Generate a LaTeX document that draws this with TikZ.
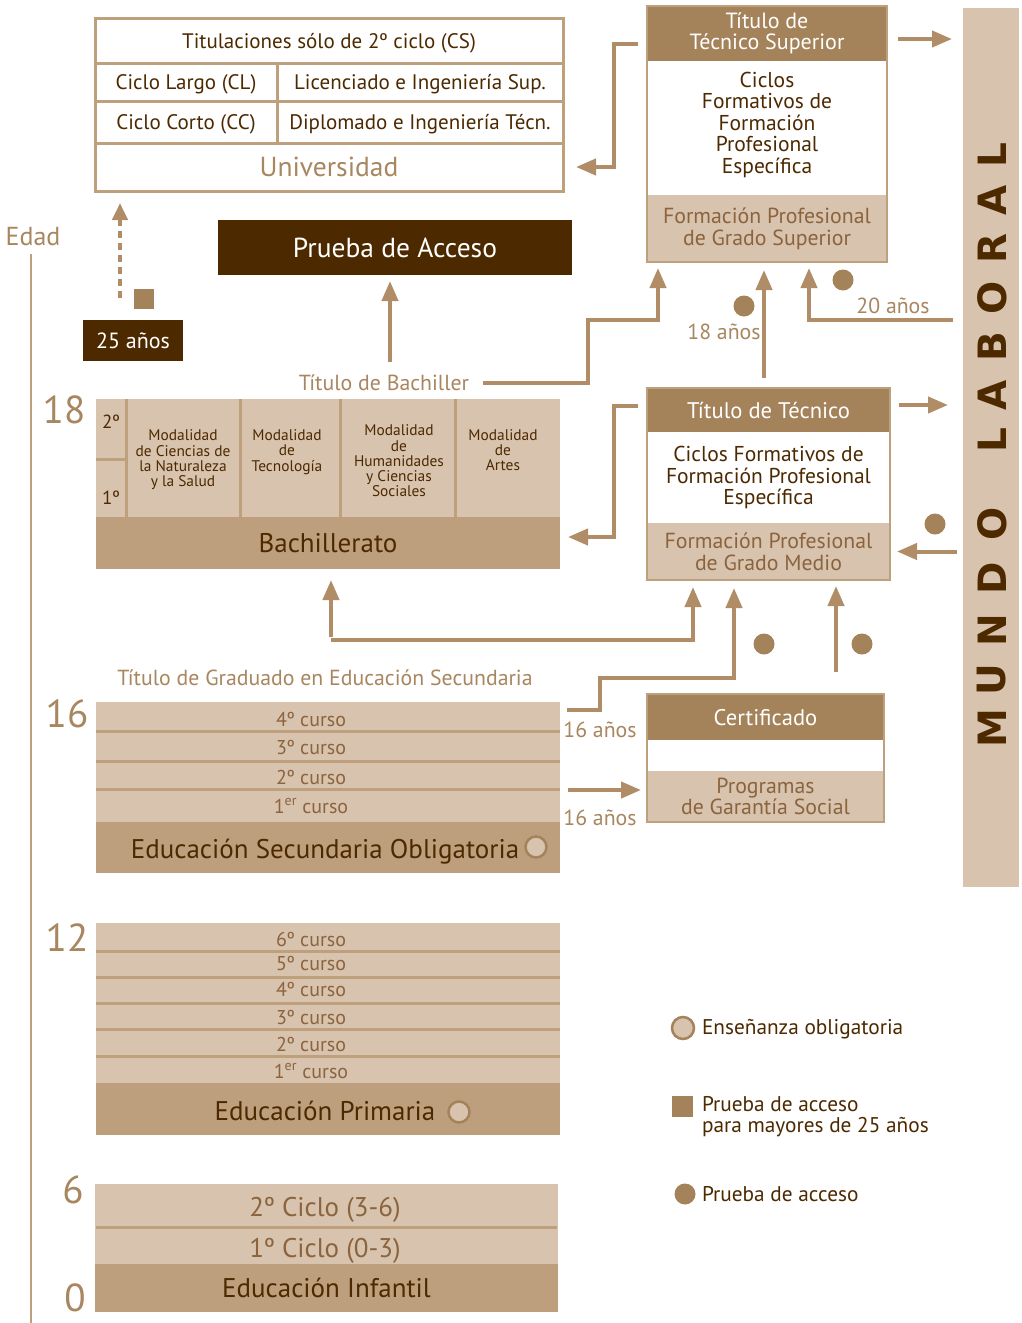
\documentclass[tikz,border=0pt]{standalone}
\usepackage{fontspec}
\setmainfont{PT Sans}
\newfontfamily\mlfont{DejaVu Sans}
\usetikzlibrary{arrows.meta}
\definecolor{cdark}{RGB}{77,41,0}
\definecolor{cmed}{RGB}{164,130,90}
\definecolor{ctan}{RGB}{189,159,126}
\definecolor{clight}{RGB}{216,195,174}
\definecolor{carrow}{RGB}{176,141,103}
\definecolor{clabel}{RGB}{168,134,95}
\definecolor{ctext}{RGB}{139,100,62}
\definecolor{cborder}{RGB}{190,160,125}
\begin{document}
\begin{tikzpicture}[x=1pt,y=-1pt,
  every node/.style={inner sep=0pt,outer sep=0pt,align=center},
  fs/.style 2 args={font=\fontsize{#1}{#2}\selectfont},
  one/.style={text depth=0pt},
  ucell/.style={draw=cborder,line width=3pt,text=cdark,fs={21}{24},one},
  hdr/.style={fill=cmed,text=white,fs={22}{21.5}},
  mid/.style={fill=white,text=cdark,fs={21.5}{21.5}},
  bot/.style={fill=clight,text=ctext,fs={21.8}{22}},
  lightbar/.style={fill=clight,minimum width=464pt},
  tanbar/.style={fill=ctan,text=cdark,minimum width=464pt,fs={27}{30},one},
  curso/.style={text=ctext,fs={20}{22},one},
  modal/.style={text=cdark,fs={15.4}{15.3}},
  age/.style={text=clabel,fs={39}{42},one},
  lbl/.style={text=clabel,fs={21.8}{24},one},
  divline/.style={draw=cborder,line width=3pt},
  frame/.style={draw=cborder,line width=1.5pt},
  arr/.style={draw=carrow,line width=4pt,-{Triangle[length=20pt,width=16pt]}},
  dot/.style={circle,fill=cmed,minimum size=21pt},
  ring/.style={circle,fill=clight,draw=cmed,line width=2.5pt,minimum size=21pt},
  legtxt/.style={anchor=west,align=left,text=cdark,fs={21.3}{21}},
  mlletter/.style={rotate=90,text=cdark,font=\mlfont\bfseries\fontsize{39}{42}\selectfont}
]
\useasboundingbox (0,0) rectangle (1022,1323);
\fill[white] (0,0) rectangle (1022,1323);

% ---------- Universidad ----------
\node[ucell,minimum width=468pt,minimum height=45pt] (cs) at (329,40.5) {Titulaciones sólo de 2º ciclo (CS)};
\node[ucell,minimum width=182pt,minimum height=38pt] (cl) at (186,82) {Ciclo Largo (CL)};
\node[ucell,minimum width=286pt,minimum height=38pt] (lic) at (420,82) {Licenciado e Ingeniería Sup.};
\node[ucell,minimum width=182pt,minimum height=42pt] (cc) at (186,122) {Ciclo Corto (CC)};
\node[ucell,minimum width=286pt,minimum height=42pt] (dip) at (420,122) {Diplomado e Ingeniería Técn.};
\node[ucell,minimum width=468pt,minimum height=48pt,text=clabel,fs={27.5}{30}] (uni) at (329,167) {Universidad};

% ---------- Prueba de acceso ----------
\node[fill=cdark,text=white,minimum width=354pt,minimum height=55pt,fs={27.5}{30},one] (pa) at (395,247.5) {Prueba de Acceso};

% ---------- Edad axis ----------
\node[text=clabel,fs={26}{28},one] (edad) at (33,236) {Edad};
\coordinate (axisbot) at (31,1323);
\draw[cborder,line width=2pt] (edad.south -| axisbot) ++(0,9) -- (axisbot);

% ---------- 25 años ----------
\node[fill=cdark,text=white,minimum width=100pt,minimum height=41pt,fs={22}{24},one] (a25) at (133,340.5) {25 años};
\node[fill=cmed,minimum size=20pt] (sq) at (144,299) {};
\coordinate (d0) at (120,298);
\draw[draw=carrow,line width=4pt,dash pattern=on 7pt off 5pt,-{Triangle[length=17pt,width=15pt]},shorten >=12pt] (d0) -- (d0 |- uni.south);

% ---------- FP Grado Superior ----------
\node[hdr,minimum width=240pt,minimum height=55pt] (fpsh) at (767,33.5) {Título de\\Técnico Superior};
\node[mid,minimum width=240pt,minimum height=134pt,text depth=11pt] (fpsm) at (767,128) {Ciclos\\Formativos de\\Formación\\Profesional\\Específica};
\node[bot,minimum width=240pt,minimum height=67pt] (fpsb) at (767,228.5) {Formación Profesional\\de Grado Superior};
\draw[frame] (fpsh.north west) rectangle (fpsb.south east);

% ---------- FP Grado Medio ----------
\node[hdr,minimum width=243pt,minimum height=44pt,fs={22.6}{24},one] (fpmh) at (768.5,410) {Título de Técnico};
\node[mid,minimum width=243pt,minimum height=91pt] (fpmm) at (768.5,477.5) {Ciclos Formativos de\\Formación Profesional\\Específica};
\node[bot,minimum width=243pt,minimum height=57pt] (fpmb) at (768.5,551.5) {Formación Profesional\\de Grado Medio};
\draw[frame] (fpmh.north west) rectangle (fpmb.south east);

% ---------- Garantía social ----------
\node[hdr,minimum width=237pt,minimum height=46pt,fs={22.6}{24},one] (ch) at (765.5,717) {Certificado};
\node[fill=white,minimum width=237pt,minimum height=30pt] (cm) at (765.5,755) {};
\node[bot,minimum width=237pt,minimum height=51pt,fs={21.8}{21}] (cb) at (765.5,796.5) {Programas\\de Garantía Social};
\draw[frame] (ch.north west) rectangle (cb.south east);

% ---------- Mundo laboral ----------
\node[fill=clight,minimum width=56pt,minimum height=879pt] (ml) at (991,447.5) {};
\foreach \ch/\yy [count=\i] in {M/728,U/680,N/630,D/578,O/524,L/440,A/395,B/347,O/298,R/248,A/200,L/155}
  \node[mlletter] (ml\i) at (992,\yy) {\ch};

% ---------- Bachillerato ----------
\node[lightbar,minimum height=118pt] (bup) at (328,458) {};
\node[tanbar,minimum height=52pt] (bbot) at (328,543) {Bachillerato};
\foreach \xx in {126,240,340,455} \draw[divline] (\xx,399) -- (\xx,517);
\draw[divline] (96,459) -- (126,459);
\node[text=cdark,fs={19}{20},one] (b2) at (111,422) {2º};
\node[text=cdark,fs={19}{20},one] (b1) at (111,498) {1º};
\node[modal] (m1) at (183,460) {Modalidad\\de Ciencias de\\la Naturaleza\\y la Salud};
\node[modal] (m2) at (287,452) {Modalidad\\de\\Tecnología};
\node[modal] (m3) at (399,461) {Modalidad\\de\\Humanidades\\y Ciencias\\Sociales};
\node[modal] (m4) at (503,450) {Modalidad\\de\\Artes};

% ---------- ESO ----------
\node[lightbar,minimum height=120pt] (esor) at (328,762) {};
\foreach \yy in {731,761,789} \draw[divline] (96,\yy) -- (560,\yy);
\node[tanbar,minimum height=51pt] (esob) at (328,847.5) {};
\node[text=cdark,fs={27}{30},one] (esot) at (325,848.5) {Educación Secundaria Obligatoria};
\node[ring] (esoc) at (536,847) {};
\node[curso] (e4) at (311,719) {4º curso};
\node[curso] (e3) at (311,747) {3º curso};
\node[curso] (e2) at (311,777) {2º curso};
\node[curso] (e1) at (311,806) {1\textsuperscript{er} curso};

% ---------- Primaria ----------
\node[lightbar,minimum height=160pt] (prr) at (328,1003) {};
\foreach \yy in {951,977,1003,1029,1056} \draw[divline] (96,\yy) -- (560,\yy);
\node[tanbar,minimum height=52pt] (prb) at (328,1109) {};
\node[text=cdark,fs={27}{30},one] (prt) at (325,1111) {Educación Primaria};
\node[ring] (prc) at (459,1112) {};
\node[curso] (p6) at (311,939) {6º curso};
\node[curso] (p5) at (311,963) {5º curso};
\node[curso] (p4) at (311,989) {4º curso};
\node[curso] (p3) at (311,1017) {3º curso};
\node[curso] (p2) at (311,1044) {2º curso};
\node[curso] (p1) at (311,1071) {1\textsuperscript{er} curso};

% ---------- Infantil ----------
\node[fill=clight,minimum width=463pt,minimum height=80pt] (infr) at (326.5,1224) {};
\draw[divline] (96,1227) -- (557,1227);
\node[tanbar,minimum width=463pt,minimum height=48pt] (infb) at (326.5,1288) {Educación Infantil};
\node[text=ctext,fs={27}{30},one] (i2) at (325,1207) {2º Ciclo (3-6)};
\node[text=ctext,fs={27}{30},one] (i1) at (325,1248) {1º Ciclo (0-3)};

% ---------- Ages ----------
\node[age] (age18) at (64,410) {18};
\node[age] (age16) at (67,714) {16};
\node[age] (age12) at (67,938) {12};
\node[age] (age6) at (73,1190) {6};
\node[age] (age0) at (75,1298) {0};

% ---------- Labels ----------
\node[lbl] (tb) at (384,383) {Título de Bachiller};
\node[lbl] (tg) at (325,678) {Título de Graduado en Educación Secundaria};
\node[lbl] (l18) at (724,332) {18 años};
\node[lbl] (l20) at (893,306) {20 años};
\node[lbl] (l16a) at (600,730) {16 años};
\node[lbl] (l16b) at (600,818) {16 años};

% ---------- Dots ----------
\node[dot] (dt1) at (744,306) {};
\node[dot] (dt2) at (843,280) {};
\node[dot] (dt3) at (935,524) {};
\node[dot] (dt4) at (764,644) {};
\node[dot] (dt5) at (862,644) {};

% ---------- Connectors ----------
\coordinate (c1) at ([xshift=-9pt,yshift=-10.5pt]fpsh.west);
\draw[arr,shorten >=13pt] (c1) -- ++(-24,0) |- (uni.east);
\coordinate (c2) at ([xshift=11pt,yshift=-5.5pt]fpsh.east);
\draw[arr,shorten >=11pt] (c2) -- (c2 -| ml.west);
\coordinate (c3) at (390,362);
\draw[arr,shorten >=6pt] (c3) -- (c3 |- pa.south);
\draw[arr,shorten >=6pt] ([xshift=14pt]tb.east) -| (588,320) -| ([xshift=-109pt]fpsb.south);
\coordinate (c5) at ([xshift=-4.5pt,yshift=10pt]fpmh.north);
\draw[arr,shorten >=8pt] (c5) -- (c5 |- fpsb.south);
\coordinate (c6) at (953,320);
\draw[arr,shorten >=6pt] (c6) -| ([xshift=42pt]fpsb.south);
\coordinate (c7) at ([xshift=-9pt,yshift=4pt]fpmh.west);
\draw[arr,shorten >=8pt] (c7) -- ++(-24,0) |- ([yshift=6pt]bbot.east);
\coordinate (c8) at ([xshift=9pt,yshift=5pt]fpmh.east);
\draw[arr,shorten >=15pt] (c8) -- (c8 -| ml.west);
\draw[arr,shorten <=6pt,shorten >=7pt] (ml.west |- fpmb.east) -- (fpmb.east);
\coordinate (c10) at (331,640);
\draw[arr,shorten >=11pt] ([yshift=3pt]c10) -- (c10 |- bbot.south);
\draw[arr,shorten >=7pt] (c10) -| ([xshift=-75.5pt]fpmb.south);
\coordinate (c11) at (567,710);
\draw[arr,shorten >=8pt] (c11) -| (600,678) -| ([xshift=-34.5pt]fpmb.south);
\coordinate (c12) at ([xshift=70.5pt,yshift=22pt]ch.north);
\draw[arr,shorten >=6pt] (c12) -- (c12 |- fpmb.south);
\coordinate (c13) at (568,790);
\draw[arr,shorten >=6pt] (c13) -- (c13 -| cb.west);

% ---------- Legend ----------
\node[ring,minimum size=22pt] (lg1) at (683,1028) {};
\node[legtxt] (lt1) at (702,1029) {Enseñanza obligatoria};
\node[fill=cmed,minimum size=21pt] (lg2) at (682.5,1106) {};
\node[legtxt] (lt2) at (702,1117) {Prueba de acceso\\para mayores de 25 años};
\node[dot] (lg3) at (685,1194) {};
\node[legtxt] (lt3) at (702,1194) {Prueba de acceso};
\end{tikzpicture}
\end{document}
